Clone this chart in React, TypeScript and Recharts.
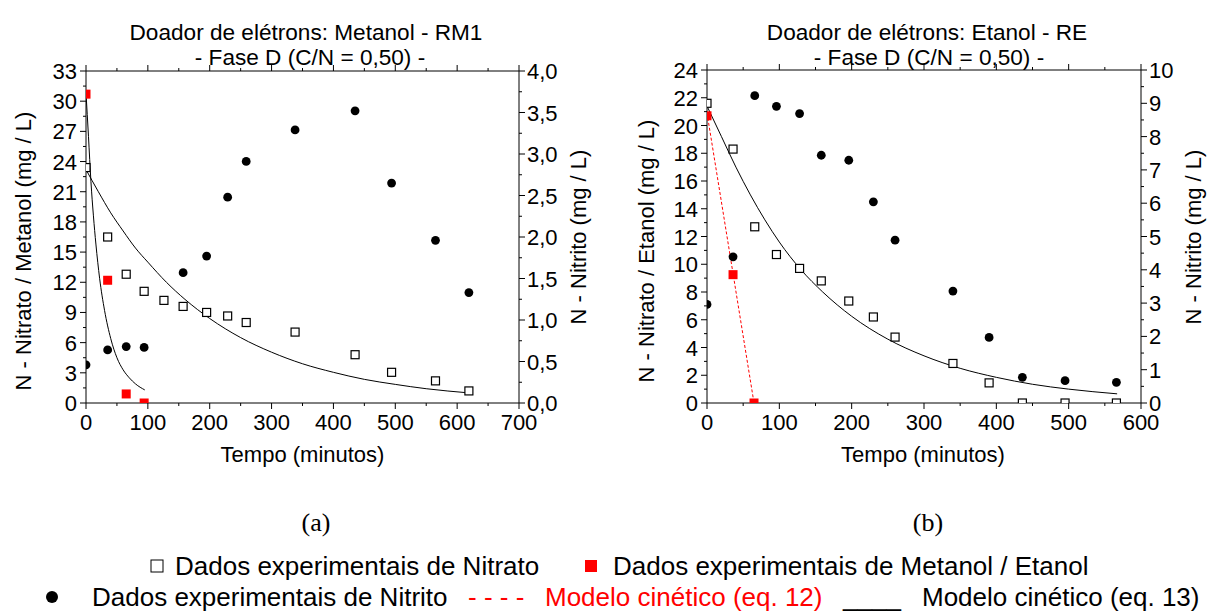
import React from 'react';
import { ComposedChart, Scatter, Line, XAxis, YAxis } from 'recharts';

const FONT = '"Liberation Sans", Arial, Helvetica, sans-serif';

// (a) Doador de elétrons: Metanol - RM1
const tNitratoA = [0, 35, 65, 94, 126, 157, 195, 229, 259, 338, 435, 494, 565, 619];
const nitratoA = [23.4, 16.5, 12.8, 11.1, 10.2, 9.6, 9.0, 8.65, 8.0, 7.05, 4.8, 3.05, 2.2, 1.2];
const tNitritoA = [0, 35, 65, 94, 157, 195, 229, 259, 338, 435, 494, 565, 619];
const nitritoA = [0.46, 0.64, 0.68, 0.67, 1.57, 1.77, 2.48, 2.91, 3.29, 3.52, 2.65, 1.96, 1.33];
const tMetanolA = [0, 35, 65, 94];
const metanolA = [30.7, 12.2, 0.9, 0];
// eq. 13 curves
const tFitNitratoA = [0, 20, 40, 60, 80, 100, 130, 160, 200, 250, 300, 350, 400, 450, 500, 550, 620];
const fitNitratoA = [23.2, 21.0, 18.9, 17.1, 15.4, 14.0, 12.0, 10.3, 8.4, 6.5, 5.05, 3.9, 3.05, 2.35, 1.85, 1.42, 1.0];
const tFitMetanolA = [0, 4, 8, 12, 16, 22, 30, 40, 50, 60, 70, 80, 95];
const fitMetanolA = [30.8, 26.5, 22.0, 18.6, 15.8, 12.4, 9.2, 6.4, 4.5, 3.3, 2.5, 1.9, 1.3];

// (b) Doador de elétrons: Etanol - RE
const tB = [0, 36, 66, 96, 128, 158, 196, 230, 260, 340, 390, 436, 495, 566];
const nitratoB = [21.6, 18.3, 12.7, 10.7, 9.7, 8.8, 7.35, 6.2, 4.75, 2.85, 1.45, 0, 0, 0];
const nitritoB = [2.96, 4.39, 9.23, 8.91, 8.69, 7.44, 7.29, 6.04, 4.89, 3.36, 1.97, 0.77, 0.67, 0.62];
const tEtanolB = [0, 36, 65];
const etanolB = [20.7, 9.25, 0];
const tFitNitratoB = [0, 20, 40, 60, 80, 100, 130, 160, 200, 250, 300, 350, 400, 450, 500, 567];
const fitNitratoB = [21.4, 19.2, 17.0, 15.0, 13.2, 11.6, 9.6, 8.0, 6.25, 4.6, 3.4, 2.5, 1.85, 1.35, 1.0, 0.66];
const tModelEtanolB = [0, 65];
const modelEtanolB = [20.9, 0];

// ticks (majors get a label, the rest are minor marks)
const xTicksA = [0, 50, 100, 150, 200, 250, 300, 350, 400, 450, 500, 550, 600, 650, 700];
const yLeftTicksA = [0, 1.5, 3, 4.5, 6, 7.5, 9, 10.5, 12, 13.5, 15, 16.5, 18, 19.5, 21, 22.5, 24, 25.5, 27, 28.5, 30, 31.5, 33];
const yRightTicksA = [0, 0.25, 0.5, 0.75, 1, 1.25, 1.5, 1.75, 2, 2.25, 2.5, 2.75, 3, 3.25, 3.5, 3.75, 4];
const xTicksB = [0, 50, 100, 150, 200, 250, 300, 350, 400, 450, 500, 550, 600];
const yLeftTicksB = [0, 1, 2, 3, 4, 5, 6, 7, 8, 9, 10, 11, 12, 13, 14, 15, 16, 17, 18, 19, 20, 21, 22, 23, 24];
const yRightTicksB = [0, 0.5, 1, 1.5, 2, 2.5, 3, 3.5, 4, 4.5, 5, 5.5, 6, 6.5, 7, 7.5, 8, 8.5, 9, 9.5, 10];

const pts = (ts: number[], vs: number[]) => ts.map((t, i) => ({ t, v: vs[i] }));
const comma = (v: number) => v.toFixed(1).replace('.', ',');

type Side = 'bottom' | 'top' | 'left' | 'right';

// tickSize/tickMargin are 0, so x/y sit on the axis line
const makeTick = (side: Side, isMajor: (v: number) => boolean, fmt?: (v: number) => string) =>
  (props: any) => {
    const { x, y, payload } = props;
    const v = payload.value as number;
    const big = isMajor(v);
    const len = big ? 6 : 3;
    const label = big && fmt ? fmt(v) : null;
    const txt = { fontFamily: FONT, fontSize: 22, fill: '#000' };
    if (side === 'bottom') {
      return (
        <g>
          <line x1={x} y1={y} x2={x} y2={y + len} stroke="#000" />
          {label && <text x={x} y={y + 27} textAnchor="middle" {...txt}>{label}</text>}
        </g>
      );
    }
    if (side === 'top') {
      return <g><line x1={x} y1={y} x2={x} y2={y - len} stroke="#000" /></g>;
    }
    if (side === 'left') {
      return (
        <g>
          <line x1={x} y1={y} x2={x - len} y2={y} stroke="#000" />
          {label && <text x={x - 9} y={y + 8} textAnchor="end" {...txt}>{label}</text>}
        </g>
      );
    }
    return (
      <g>
        <line x1={x} y1={y} x2={x + len} y2={y} stroke="#000" />
        {label && <text x={x + 8} y={y + 8} textAnchor="start" {...txt}>{label}</text>}
      </g>
    );
  };

const OpenSquare = (p: any) => (
  <rect x={p.cx - 4} y={p.cy - 4} width={8} height={8} fill="#fff" stroke="#000" strokeWidth={1.2} />
);
const RedSquare = (p: any) => (
  <rect x={p.cx - 4.5} y={p.cy - 4.5} width={9} height={9} fill="#ff0000" />
);
const Dot = (p: any) => <circle cx={p.cx} cy={p.cy} r={4.4} fill="#000" />;

interface PanelProps {
  w: number;
  h: number;
  top: number;
  leftW: number;
  rightW: number;
  xMax: number;
  xTicks: number[];
  xMajor: (v: number) => boolean;
  lMax: number;
  lTicks: number[];
  lMajor: (v: number) => boolean;
  rMax: number;
  rTicks: number[];
  rMajor: (v: number) => boolean;
  rFmt: (v: number) => string;
  children?: React.ReactNode;
}

const Panel = (p: PanelProps) => (
  <ComposedChart width={p.w} height={p.h} margin={{ top: p.top, right: 0, bottom: 17, left: 0 }}>
    <XAxis
      xAxisId="b" dataKey="t" type="number" domain={[0, p.xMax]} ticks={p.xTicks} interval={0}
      allowDataOverflow height={60} tickSize={0} tickMargin={0} tickLine={false}
      axisLine={{ stroke: '#000' }} tick={makeTick('bottom', p.xMajor, (v) => String(v))}
    />
    <XAxis
      xAxisId="t" dataKey="t" orientation="top" type="number" domain={[0, p.xMax]} ticks={p.xTicks}
      interval={0} allowDataOverflow height={1} tickSize={0} tickMargin={0} tickLine={false}
      axisLine={{ stroke: '#000' }} tick={makeTick('top', p.xMajor)}
    />
    <YAxis
      yAxisId="l" orientation="left" type="number" domain={[0, p.lMax]} ticks={p.lTicks} interval={0}
      allowDataOverflow width={p.leftW} tickSize={0} tickMargin={0} tickLine={false}
      axisLine={{ stroke: '#000' }} tick={makeTick('left', p.lMajor, (v) => String(v))}
    />
    <YAxis
      yAxisId="r" orientation="right" type="number" domain={[0, p.rMax]} ticks={p.rTicks} interval={0}
      allowDataOverflow width={p.rightW} tickSize={0} tickMargin={0} tickLine={false}
      axisLine={{ stroke: '#000' }} tick={makeTick('right', p.rMajor, p.rFmt)}
    />
    {p.children}
  </ComposedChart>
);

const labelText = { fontFamily: FONT, fontSize: 22, fill: '#000' };
const legendText = { fontFamily: FONT, fontSize: 26, fill: '#000' };

export default function App() {
  return (
    <div style={{ position: 'absolute', left: 0, top: 0, width: 1207, height: 615, background: '#fff', overflow: 'hidden' }}>
      <div style={{ position: 'absolute', left: 0, top: 0 }}>
        <Panel
          w={600} h={480} top={70} leftW={86} rightW={81}
          xMax={700} xTicks={xTicksA} xMajor={(v) => v % 100 === 0}
          lMax={33} lTicks={yLeftTicksA} lMajor={(v) => v % 3 === 0}
          rMax={4} rTicks={yRightTicksA} rMajor={(v) => v % 0.5 === 0} rFmt={comma}
        >
          <Line data={pts(tFitNitratoA, fitNitratoA)} dataKey="v" xAxisId="b" yAxisId="l" type="monotone"
            stroke="#000" strokeWidth={1} dot={false} isAnimationActive={false} />
          <Line data={pts(tFitMetanolA, fitMetanolA)} dataKey="v" xAxisId="b" yAxisId="l" type="monotone"
            stroke="#000" strokeWidth={1} dot={false} isAnimationActive={false} />
          <Scatter data={pts(tNitratoA, nitratoA)} dataKey="v" xAxisId="b" yAxisId="l" shape={OpenSquare} isAnimationActive={false} />
          <Scatter data={pts(tMetanolA, metanolA)} dataKey="v" xAxisId="b" yAxisId="l" shape={RedSquare} isAnimationActive={false} />
          <Scatter data={pts(tNitritoA, nitritoA)} dataKey="v" xAxisId="b" yAxisId="r" shape={Dot} isAnimationActive={false} />
        </Panel>
      </div>
      <div style={{ position: 'absolute', left: 600, top: 0 }}>
        <Panel
          w={607} h={480} top={69} leftW={107} rightW={66}
          xMax={600} xTicks={xTicksB} xMajor={(v) => v % 100 === 0}
          lMax={24} lTicks={yLeftTicksB} lMajor={(v) => v % 2 === 0}
          rMax={10} rTicks={yRightTicksB} rMajor={(v) => v % 1 === 0} rFmt={(v) => String(v)}
        >
          <Line data={pts(tFitNitratoB, fitNitratoB)} dataKey="v" xAxisId="b" yAxisId="l" type="monotone"
            stroke="#000" strokeWidth={1} dot={false} isAnimationActive={false} />
          <Line data={pts(tModelEtanolB, modelEtanolB)} dataKey="v" xAxisId="b" yAxisId="l" type="linear"
            stroke="#ff0000" strokeWidth={1} strokeDasharray="3 2" dot={false} isAnimationActive={false} />
          <Scatter data={pts(tB, nitratoB)} dataKey="v" xAxisId="b" yAxisId="l" shape={OpenSquare} isAnimationActive={false} />
          <Scatter data={pts(tEtanolB, etanolB)} dataKey="v" xAxisId="b" yAxisId="l" shape={RedSquare} isAnimationActive={false} />
          <Scatter data={pts(tB, nitritoB)} dataKey="v" xAxisId="b" yAxisId="r" shape={Dot} isAnimationActive={false} />
        </Panel>
      </div>

      <svg width={1207} height={615} style={{ position: 'absolute', left: 0, top: 0, pointerEvents: 'none' }}>
        <g {...labelText} textAnchor="middle">
          <text x={306} y={39.5} fontSize={22.6}>Doador de elétrons: Metanol - RM1</text>
          <text x={310} y={65} fontSize={22.6}>- Fase D (C/N = 0,50) -</text>
          <text x={927} y={39.5} fontSize={22.6}>Doador de elétrons: Etanol - RE</text>
          <text x={929} y={65} fontSize={22.6}>- Fase D (C/N = 0,50) -</text>
          <text x={302.5} y={462}>Tempo (minutos)</text>
          <text x={923} y={462}>Tempo (minutos)</text>
          <text x={31} y={251} transform="rotate(-90 31 251)">N - Nitrato / Metanol (mg / L)</text>
          <text x={586} y={237} transform="rotate(-90 586 237)">N - Nitrito (mg / L)</text>
          <text x={654} y={251} transform="rotate(-90 654 251)">N - Nitrato / Etanol (mg / L)</text>
          <text x={1201} y={237} transform="rotate(-90 1201 237)">N - Nitrito (mg / L)</text>
        </g>
        <g fontFamily='"Liberation Serif", "Times New Roman", serif' fontSize={26} textAnchor="middle" fill="#000">
          <text x={316} y={531}>(a)</text>
          <text x={928} y={531}>(b)</text>
        </g>
        <rect x={151} y={560} width={12} height={12} fill="#fff" stroke="#000" strokeWidth={1} />
        <text x={175} y={575} {...legendText}>Dados experimentais de Nitrato</text>
        <rect x={585} y={560} width={12} height={12} fill="#ff0000" />
        <text x={613} y={575} {...legendText}>Dados experimentais de Metanol / Etanol</text>
        <circle cx={52} cy={597} r={6} fill="#000" />
        <text x={92} y={606} {...legendText}>Dados experimentais de Nitrito</text>
        <text x={468} y={606} {...legendText} fill="#ff0000">- - - -</text>
        <text x={545} y={606} {...legendText} fill="#ff0000">Modelo cinético (eq. 12)</text>
        <text x={843} y={606} {...legendText}>____</text>
        <text x={922} y={606} {...legendText}>Modelo cinético (eq. 13)</text>
      </svg>
    </div>
  );
}
